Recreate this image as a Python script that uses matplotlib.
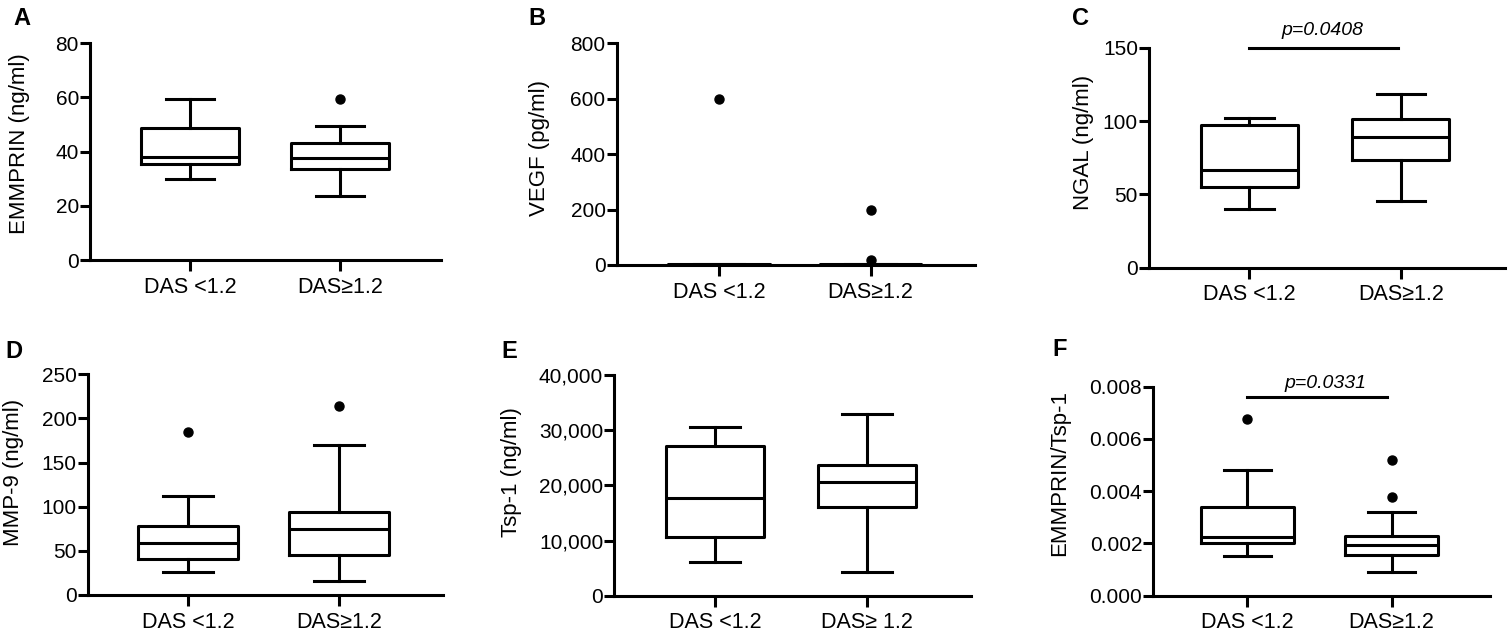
import matplotlib
matplotlib.use("Agg")
import matplotlib.pyplot as plt
from matplotlib.ticker import StrMethodFormatter

plt.rcParams['font.family'] = ['Liberation Sans', 'DejaVu Sans']

# ---------------- data ----------------
categories = ['DAS <1.2', 'DAS\u22651.2']
categories_e = ['DAS <1.2', 'DAS\u2265 1.2']

# each group: [whisker low, Q1, median, Q3, whisker high]
emmprin_stats = [[29.8, 35.3, 37.9, 48.8, 59.3], [23.6, 33.5, 37.6, 43.3, 49.6]]
emmprin_fliers = [[], [59.3]]

vegf_stats = [[0, 0, 1, 3, 5], [0, 0, 1, 3, 5]]
vegf_fliers = [[600], [200, 18]]

ngal_stats = [[40.2, 54.8, 66.4, 97.0, 102.0], [45.3, 73.6, 88.9, 101.6, 118.6]]
ngal_fliers = [[], []]

mmp9_stats = [[26.4, 40.4, 59.3, 77.8, 111.8], [15.9, 45.0, 74.8, 94.0, 170.0]]
mmp9_fliers = [[185], [213.8]]

tsp1_stats = [[6050, 10580, 17760, 27130, 30630], [4240, 16020, 20610, 23690, 32990]]
tsp1_fliers = [[], []]

ratio_stats = [[0.00151, 0.00201, 0.00226, 0.0034, 0.0048], [0.00091, 0.00155, 0.00193, 0.00227, 0.0032]]
ratio_fliers = [[0.00678], [0.00518, 0.00378]]

ngal_p = 'p=0.0408'
ratio_p = 'p=0.0331'

# ---------------- layout ----------------
W, H = 1508, 632
fig = plt.figure(figsize=(W / 100, H / 100), dpi=100)
LW = 2.2
YTICK_FS = 15
XTICK_FS = 15.5
LABEL_FS = 16


def add_panel(px, ylim, yticks, stats, fliers, ylabel, labelpos, letter, letterpos,
              width, xlim, cats, fmt=None):
    left, right, top, bottom = px
    ax = fig.add_axes([left / W, 1 - bottom / H, (right - left) / W, (bottom - top) / H])
    bstats = []
    for s, f in zip(stats, fliers):
        bstats.append(dict(whislo=s[0], q1=s[1], med=s[2], q3=s[3], whishi=s[4], fliers=f))
    ax.bxp(bstats, positions=[0, 1], widths=width, showfliers=True, manage_ticks=False,
           boxprops=dict(linewidth=LW, color='black'),
           whiskerprops=dict(linewidth=LW, color='black'),
           capprops=dict(linewidth=LW, color='black'),
           medianprops=dict(linewidth=LW, color='black'),
           flierprops=dict(marker='o', markerfacecolor='black', markeredgecolor='black',
                           markersize=6.5, linestyle='none'))
    ax.set_xlim(*xlim)
    ax.set_ylim(*ylim)
    ax.set_yticks(yticks)
    if fmt:
        ax.yaxis.set_major_formatter(StrMethodFormatter(fmt))
    ax.set_xticks([0, 1])
    ax.set_xticklabels(cats)
    for s in ['top', 'right']:
        ax.spines[s].set_visible(False)
    for s in ['left', 'bottom']:
        ax.spines[s].set_linewidth(LW)
    ax.tick_params(axis='y', length=7, width=LW, pad=1, labelsize=YTICK_FS)
    ax.tick_params(axis='x', length=8, width=LW, pad=4, labelsize=XTICK_FS)
    ax.set_ylabel(ylabel, fontsize=LABEL_FS)
    ax.yaxis.label.set_va('center')
    lx, ly = labelpos
    ax.yaxis.set_label_coords((lx - left) / (right - left), (bottom - ly) / (bottom - top))
    fig.text(letterpos[0] / W, 1 - letterpos[1] / H, letter, fontsize=17,
             fontweight='bold', ha='left', va='top')
    return ax


axA = add_panel((90, 441, 43.3, 260), (0, 80), [0, 20, 40, 60, 80],
                emmprin_stats, emmprin_fliers, 'EMMPRIN (ng/ml)', (20, 144), 'A', (13, 7),
                0.65, (-0.667, 1.673), categories)

axB = add_panel((616.7, 975, 43.3, 265), (0, 800), [0, 200, 400, 600, 800],
                vegf_stats, vegf_fliers, 'VEGF (pg/ml)', (540, 148), 'B', (528, 7),
                0.67, (-0.674, 1.688), categories)

axC = add_panel((1149, 1505, 47.7, 267.7), (0, 150), [0, 50, 100, 150],
                ngal_stats, ngal_fliers, 'NGAL (ng/ml)', (1084, 142), 'C', (1072, 7),
                0.64, (-0.661, 1.686), categories)

axD = add_panel((87.7, 442.7, 374.3, 595), (0, 250), [0, 50, 100, 150, 200, 250],
                mmp9_stats, mmp9_fliers, 'MMP-9 (ng/ml)', (14, 472), 'D', (5, 340),
                0.66, (-0.664, 1.684), categories)

axE = add_panel((614.3, 971, 375, 595.7), (0, 40000), [0, 10000, 20000, 30000, 40000],
                tsp1_stats, tsp1_fliers, 'Tsp-1 (ng/ml)', (512, 472), 'E', (501, 340),
                0.65, (-0.6625, 1.684), categories_e, fmt='{x:,.0f}')

axF = add_panel((1153.3, 1490, 386.7, 595.7), (0, 0.008), [0, 0.002, 0.004, 0.006, 0.008],
                ratio_stats, ratio_fliers, 'EMMPRIN/Tsp-1', (1060, 473), 'F', (1052, 338),
                0.645, (-0.651, 1.681), categories, fmt='{x:.3f}')

# significance bars
axC.plot([0, 0.98], [150, 150], color='black', lw=LW, clip_on=False)
axC.text(0.48, 156, ngal_p, style='italic', fontsize=14, ha='center', va='bottom')
axF.plot([0, 0.965], [0.0076, 0.0076], color='black', lw=LW, clip_on=False)
axF.text(0.54, 0.0078, ratio_p, style='italic', fontsize=14, ha='center', va='bottom')

fig.savefig('out.png', dpi=100)
